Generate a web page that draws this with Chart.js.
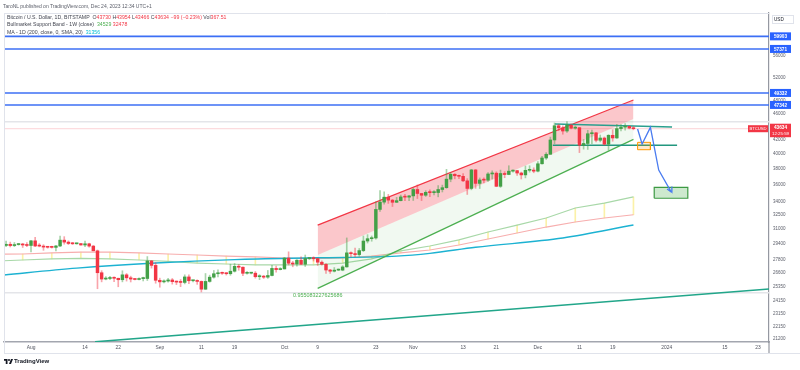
<!DOCTYPE html>
<html><head><meta charset="utf-8">
<script src="https://cdn.jsdelivr.net/npm/chart.js@4.4.0/dist/chart.umd.min.js"></script>
<style>
html,body{margin:0;padding:0;background:#fff;}
#wrap{position:relative;width:800px;height:370px;overflow:hidden;background:#fff;}
canvas{position:absolute;left:0;top:0;}
.t{position:absolute;font-family:'Liberation Sans',Arial,sans-serif;white-space:nowrap;}
.r{color:#f23645}.g{color:#4caf50}.c{color:#00bcd4}
</style></head>
<body><div id="wrap"><canvas id="c" width="800" height="370"></canvas>
<div class="t" style="left:3px;top:3px;font-size:5px;line-height:6px;color:#5d606b">TaroNL published on TradingView.com, Dec 24, 2023 12:34 UTC+1</div>
<div class="t" style="left:7px;top:13.5px;font-size:5.2px;line-height:7.5px;color:#434651">
<div>Bitcoin / U.S. Dollar, 1D, BITSTAMP&nbsp; O<span class="r">43730</span> H<span class="r">43954</span> L<span class="r">43466</span> C<span class="r">43634</span> <span class="r">−99 (−0.23%)</span> Vol<span class="r">367.51</span></div>
<div>Bullmarket Support Band - 1W (close)&nbsp; <span class="g">34529</span> <span class="r">32478</span></div>
<div>MA - 1D (200, close, 0, SMA, 20)&nbsp; <span class="c">31356</span></div>
</div>
<div class="t" style="left:4px;top:358px;font-size:6px;line-height:7px;color:#131722;font-weight:bold;display:flex;align-items:center;gap:1px">
<svg width="9" height="5" viewBox="0 0 36 20"><path d="M0 0h14v20H7V7H0z" fill="#131722"/><circle cx="20" cy="4" r="4" fill="#131722"/><path d="M28 0h8l-8 20h-8z" fill="#131722"/></svg><span>TradingView</span></div>
</div>
<script>
// ---------- DATA ----------
const dates = ['2023-07-26','2023-07-27','2023-07-28','2023-07-29','2023-07-30','2023-07-31',
'2023-08-01','2023-08-02','2023-08-03','2023-08-04','2023-08-05','2023-08-06','2023-08-07','2023-08-08','2023-08-09','2023-08-10','2023-08-11','2023-08-12','2023-08-13','2023-08-14','2023-08-15','2023-08-16','2023-08-17','2023-08-18','2023-08-19','2023-08-20','2023-08-21','2023-08-22','2023-08-23','2023-08-24','2023-08-25','2023-08-26','2023-08-27','2023-08-28','2023-08-29','2023-08-30','2023-08-31',
'2023-09-01','2023-09-02','2023-09-03','2023-09-04','2023-09-05','2023-09-06','2023-09-07','2023-09-08','2023-09-09','2023-09-10','2023-09-11','2023-09-12','2023-09-13','2023-09-14','2023-09-15','2023-09-16','2023-09-17','2023-09-18','2023-09-19','2023-09-20','2023-09-21','2023-09-22','2023-09-23','2023-09-24','2023-09-25','2023-09-26','2023-09-27','2023-09-28','2023-09-29','2023-09-30',
'2023-10-01','2023-10-02','2023-10-03','2023-10-04','2023-10-05','2023-10-06','2023-10-07','2023-10-08','2023-10-09','2023-10-10','2023-10-11','2023-10-12','2023-10-13','2023-10-14','2023-10-15','2023-10-16','2023-10-17','2023-10-18','2023-10-19','2023-10-20','2023-10-21','2023-10-22','2023-10-23','2023-10-24','2023-10-25','2023-10-26','2023-10-27','2023-10-28','2023-10-29','2023-10-30','2023-10-31',
'2023-11-01','2023-11-02','2023-11-03','2023-11-04','2023-11-05','2023-11-06','2023-11-07','2023-11-08','2023-11-09','2023-11-10','2023-11-11','2023-11-12','2023-11-13','2023-11-14','2023-11-15','2023-11-16','2023-11-17','2023-11-18','2023-11-19','2023-11-20','2023-11-21','2023-11-22','2023-11-23','2023-11-24','2023-11-25','2023-11-26','2023-11-27','2023-11-28','2023-11-29','2023-11-30',
'2023-12-01','2023-12-02','2023-12-03','2023-12-04','2023-12-05','2023-12-06','2023-12-07','2023-12-08','2023-12-09','2023-12-10','2023-12-11','2023-12-12','2023-12-13','2023-12-14','2023-12-15','2023-12-16','2023-12-17','2023-12-18','2023-12-19','2023-12-20','2023-12-21','2023-12-22','2023-12-23','2023-12-24'];
const opens = [29230,29350,29220,29320,29350,29280,
29230,29700,29180,29170,29070,29050,29040,29180,29770,29570,29430,29400,29420,29280,29400,29170,28700,26620,26050,26100,26190,26120,25990,26430,26160,26050,26010,26090,26100,27720,27300,
25940,25800,25870,25970,25820,25780,25750,26240,25900,25900,25840,25160,25840,26220,26530,26600,26570,26530,26760,27210,27130,26570,26580,26580,26260,26300,26220,26370,27020,26910,
26970,27990,27500,27430,27790,27410,27950,27970,27940,27600,27400,26870,26760,26860,26860,27160,28500,28420,28330,28720,29680,29920,29990,33080,33920,34500,34150,33900,34090,34530,34500,
34650,35420,34940,34730,35080,35040,35050,35420,35640,36700,37320,37130,37060,36490,35550,37880,36170,36600,36570,37360,37460,35810,37420,37290,37720,37790,37480,37240,37830,37860,
37720,38690,39460,39970,41980,44080,43770,43290,44170,43720,43790,41240,41480,42890,43020,41940,42260,41380,42660,42270,43650,43870,43990,43730];
const highs = [29680,29570,29530,29410,29450,29520,
29740,30050,29420,29310,29110,29160,29240,30180,30130,29700,29540,29470,29450,29680,29460,29230,28780,26810,26270,26290,26250,26130,26800,26550,26310,26090,26170,26220,28140,27760,27560,
26130,25970,26120,26100,25880,26010,26430,26420,25930,25980,25880,26550,26400,26830,26880,26670,26620,27410,27480,27380,27160,26720,26640,26730,26440,26380,26830,27300,27230,27090,
28050,28600,27680,27840,28120,28290,28000,28120,27990,27730,27480,26940,27100,26970,27280,30000,28600,28960,28930,30200,30340,30200,33950,35280,35130,34830,34240,34470,34750,34850,34720,
35570,35980,34940,35280,35380,35280,35900,35960,37960,37520,37400,37230,37410,36760,37960,37940,36850,36860,37530,37760,37640,37860,37660,38430,37900,37830,37600,38400,38430,38160,
38980,39700,40200,42400,44500,44300,44060,44700,44370,44050,43800,42050,43400,43420,43090,42700,42420,42750,43480,44280,44240,44400,44030,43954];
const lows = [29100,29080,29120,29260,29030,29110,
28590,29120,29090,28750,28960,28970,28700,29120,29360,29320,29330,29360,29250,29100,29060,28700,25200,25800,25980,26000,25810,25370,25800,25870,25790,25980,25970,25880,25920,27050,25680,
25330,25710,25780,25600,25560,25380,25620,25650,25800,25580,24920,25130,25770,26130,26250,26470,26410,26390,26680,26850,26360,26480,26510,26130,26000,26100,26110,26340,26680,26880,
26960,27340,27170,27220,27370,27200,27850,27710,27290,27310,26560,26560,26690,26810,26800,27130,28100,28140,28170,28620,29480,29660,29880,32860,33690,33770,33410,33880,34050,34080,34080,
34110,34340,34100,34580,34560,34760,34540,35120,35560,36370,36740,36770,36370,34820,35380,35560,35540,36220,36420,36720,35760,35670,36880,37260,37590,37160,36720,36860,37590,37510,
37630,38650,39270,39970,41450,43350,42820,43080,43590,43560,40200,40680,40640,41450,41700,41700,41260,40530,41800,42210,43300,43400,43600,43466];
const closes = [29350,29220,29320,29350,29280,29230,
29700,29180,29170,29070,29050,29040,29180,29770,29570,29430,29400,29420,29280,29400,29170,28700,26620,26050,26100,26190,26120,25990,26430,26160,26050,26010,26090,26100,27720,27300,25940,
25800,25870,25970,25820,25780,25750,26240,25900,25900,25840,25160,25840,26220,26530,26600,26570,26530,26760,27210,27130,26570,26580,26580,26260,26300,26220,26370,27020,26910,26970,
27990,27500,27430,27790,27410,27950,27970,27940,27600,27400,26870,26760,26860,26860,27160,28500,28420,28330,28720,29680,29920,29990,33080,33920,34500,34150,33900,34090,34530,34500,34650,
35420,34940,34730,35080,35040,35050,35420,35640,36700,37320,37130,37060,36490,35550,37880,36170,36600,36570,37360,37460,35810,37420,37290,37720,37790,37480,37240,37830,37860,37720,
38690,39460,39970,41980,44080,43770,43290,44170,43720,43790,41240,41480,42890,43020,41940,42260,41380,42660,42270,43650,43870,43990,43730,43634];

const xTickDates = ['2023-08-01','2023-08-14','2023-08-22','2023-09-01','2023-09-11','2023-09-19','2023-10-01','2023-10-09','2023-10-23','2023-11-01','2023-11-13','2023-11-21','2023-12-01','2023-12-11','2023-12-19','2024-01-01','2024-01-15','2024-01-23'];
const xTickLabels = ['Aug','14','22','Sep','11','19','Oct','9','23','Nov','13','21','Dec','11','19','2024','15','23'];
const yTickValues = [56000,52000,48000,46000,44000,42000,40000,38000,36000,34000,32500,31000,29400,27800,26600,25350,24150,23150,22150,21200];
const viewDates = ['2023-07-25 12','2024-01-25 15'];
const viewPrices = [20990, 64900];

const maDates = ['2023-07-25','2023-08-12','2023-08-31','2023-09-19','2023-10-09','2023-10-28','2023-11-05','2023-11-16','2023-12-07','2023-12-24'];
const maValues = [26400,27050,27530,27850,28020,28180,28450,29050,29990,31356];

const bandDates = ['2023-07-23','2023-07-30','2023-08-06','2023-08-13','2023-08-20','2023-08-27','2023-09-03','2023-09-10','2023-09-17','2023-09-24','2023-10-01','2023-10-08','2023-10-15','2023-10-22','2023-10-29','2023-11-05','2023-11-12','2023-11-19','2023-11-26','2023-12-03','2023-12-10','2023-12-17','2023-12-24'];
const bandGreen = [27700,27810,27910,27970,27910,27810,27670,27520,27430,27340,27340,27340,27520,27910,28700,29180,29790,30610,31350,32120,33240,33810,34529];
const bandRed = [28360,28390,28490,28580,28580,28490,28390,28290,28190,28100,28000,27950,28000,28190,28490,28780,29280,29890,30510,31140,31680,32120,32478];

const regDates = ['2023-10-09','2023-12-24'];
const regUpper = [31350,48150];
const regBase = [28290,45110];
const regLower = [25230,42070];
const pearsonR = '0.955083227625686';

const levelValues = [59903,57371,49332,47342];
const grayLevels = [44690,24850];
const lastPrice = 43634;
const lastTime = '12:25:59';

const trendDates = ['2023-08-16 10','2024-01-25 15'];
const trendValues = [21005,25170];
const topSegDates = ['2023-12-05 02','2024-01-02 07'];
const topSegValues = [44340,43890];
const midSegDates = ['2023-12-04 14','2024-01-03 12'];
const midSegValues = [41220,41220];
const pathDates = ['2023-12-25 00','2023-12-26 02','2023-12-28 02','2023-12-30 02','2024-01-02 01','2024-01-01 02','2024-01-02 01','2024-01-02 06'];
const pathValues = [43590,41400,43840,37870,35150,35480,35150,35790];
const orangeBoxDates = ['2023-12-25 00','2023-12-28 02'];
const orangeBoxValues = [40600,41640];
const greenBoxDates = ['2023-12-29 00','2024-01-06 02'];
const greenBoxValues = [34370,35690];

// ---------- HELPERS ----------
const EPOCH = Date.UTC(2023,7,1);
function dayOf(s){
  const [dp, hp] = s.split(' ');
  const [y,m,d] = dp.split('-').map(Number);
  return (Date.UTC(y,m-1,d,hp?Number(hp):0) - EPOCH)/86400000;
}
const xMin = dayOf(viewDates[0]), xMax = dayOf(viewDates[1]);
const pts = (ds, vs) => ds.map((s,i)=>({x:dayOf(s), y:vs[i]}));
const hline = v => [{x:xMin,y:v},{x:xMax,y:v}];
const box = (ds, vs) => { const a=dayOf(ds[0]), b=dayOf(ds[1]); return [{x:a,y:vs[0]},{x:a,y:vs[1]},{x:b,y:vs[1]},{x:b,y:vs[0]},{x:a,y:vs[0]}]; };
const tickDays = xTickDates.map(dayOf);
const UP='#43a047', DN='#f23645';
const isUp = i => closes[i] >= opens[i];

const L = (data, color, width, extra) => Object.assign({type:'line', data, borderColor:color, borderWidth:width, pointRadius:0, fill:false, tension:0}, extra||{});

const datasets = [
  /*0*/ L(pts(regDates, regUpper), '#f23645', 1.2, {order:12}),
  /*1*/ L(pts(regDates, regBase), 'rgba(0,0,0,0)', 0, {order:13, fill:{target:0}, backgroundColor:'rgba(242,54,69,0.28)'}),
  /*2*/ L(pts(regDates, regLower), '#4caf50', 1.2, {order:13, fill:{target:1}, backgroundColor:'rgba(76,175,80,0.08)'}),
  /*3*/ L(pts(trendDates, trendValues), '#22a68a', 1.5, {order:14}),
  /*4*/ L(pts(maDates, maValues), '#1cb2d2', 1.4, {order:15, cubicInterpolationMode:'monotone'}),
  /*5*/ L(pts(bandDates, bandGreen), '#a8d8a8', 1.2, {order:16}),
  /*6*/ L(pts(bandDates, bandRed), '#f7aeae', 1.2, {order:16}),
  /*7*/ {type:'bar', data: bandDates.map((s,i)=>({x:dayOf(s), y:[bandGreen[i], bandRed[i]]})), backgroundColor:'#fbf1a8', barThickness:1, maxBarThickness:1, grouped:false, order:17},
  /*8*/ L(hline(lastPrice), 'rgba(242,54,69,0.22)', 1, {order:20}),
  /*9*/ L(hline(grayLevels[0]), '#e4e5e9', 1.6, {order:20}),
  /*10*/ L(hline(grayLevels[1]), '#e4e5e9', 1.4, {order:20}),
  ...levelValues.map(v => L(hline(v), '#3c6ff5', 1.6, {order:10})),
  L(pts(topSegDates, topSegValues), '#2a9f8e', 1.4, {order:8}),
  L(pts(midSegDates, midSegValues), '#23977f', 1.4, {order:8}),
  {type:'bar', data: dates.map((s,i)=>({x:dayOf(s), y:[lows[i], highs[i]]})), backgroundColor: c => isUp(c.dataIndex)?'rgba(67,160,71,0.45)':'rgba(242,54,69,0.45)', barThickness:1, maxBarThickness:1, grouped:false, order:6},
  {type:'bar', data: dates.map((s,i)=>({x:dayOf(s), y:[opens[i], closes[i]]})), backgroundColor: c => isUp(c.dataIndex)?UP:DN, barThickness:2.8, maxBarThickness:2.8, minBarLength:1, grouped:false, order:5},
  L(box(orangeBoxDates, orangeBoxValues), '#ff9800', 1, {order:4, fill:'shape', backgroundColor:'rgba(255,152,0,0.2)'}),
  L(box(greenBoxDates, greenBoxValues), '#3d9a43', 1.2, {order:4, fill:'shape', backgroundColor:'rgba(76,175,80,0.28)'}),
  L(pts(pathDates, pathValues), '#4a7cf0', 1.3, {order:3}),
];

const FONT = "'Liberation Sans', Arial, sans-serif";
const overlay = {
  id:'overlay',
  afterDatasetsDraw(chart){
    const {ctx, scales:{x,y}} = chart;
    ctx.save();
    ctx.fillStyle='#4caf50'; ctx.font='5.4px '+FONT; ctx.textAlign='center'; ctx.textBaseline='middle';
    ctx.fillText(pearsonR, x.getPixelForValue(dayOf(regDates[0])), y.getPixelForValue(regLower[0])+7);
    ctx.restore();
  },
  afterDraw(chart){
    const {ctx, chartArea:a, scales:{x,y}} = chart;
    const W = chart.width;
    ctx.save();
    ctx.strokeStyle='#e0e3eb'; ctx.lineWidth=1;
    ctx.beginPath();
    ctx.moveTo(a.left, a.top+0.5); ctx.lineTo(a.right, a.top+0.5);
    ctx.moveTo(a.left+0.5, a.top); ctx.lineTo(a.left+0.5, a.bottom+11);
    ctx.moveTo(a.left, a.bottom+11.5); ctx.lineTo(W, a.bottom+11.5);
    ctx.stroke();
    ctx.strokeStyle='#9598a1'; ctx.lineWidth=1.2;
    ctx.beginPath(); ctx.moveTo(a.right, a.bottom); ctx.lineTo(a.right, a.bottom+11); ctx.stroke();
    // USD box
    ctx.fillStyle='#fff'; ctx.strokeStyle='#e0e3eb'; ctx.lineWidth=1;
    ctx.fillRect(a.right+3, a.top+2, 21, 8); ctx.strokeRect(a.right+3.5, a.top+2.5, 21, 8);
    ctx.fillStyle='#131722'; ctx.font='4.6px '+FONT; ctx.textAlign='left'; ctx.textBaseline='middle';
    ctx.fillText('USD', a.right+5, a.top+6.5);
    // level tags
    ctx.textAlign='center';
    levelValues.forEach(v => {
      const py = y.getPixelForValue(v);
      ctx.fillStyle='#2962ff'; ctx.fillRect(a.right+1, py-4, 21, 8);
      ctx.fillStyle='#fff'; ctx.font='bold 4.7px '+FONT; ctx.fillText(String(v), a.right+11.5, py+0.3);
    });
    // price tag
    const pp = y.getPixelForValue(lastPrice);
    ctx.fillStyle='#f23645'; ctx.fillRect(a.right+1, pp-5, 21, 13.5);
    ctx.fillStyle='#fff'; ctx.font='bold 4.7px '+FONT; ctx.fillText(String(lastPrice), a.right+11.5, pp-0.8);
    ctx.font='4.4px '+FONT; ctx.fillText(lastTime, a.right+11.5, pp+5);
    ctx.fillStyle='#f23645'; ctx.fillRect(a.right-21, pp-3.5, 20, 7);
    ctx.fillStyle='#fff'; ctx.font='4.2px '+FONT; ctx.fillText('BTCUSD', a.right-11, pp+0.2);
    ctx.restore();
  }
};

new Chart(document.getElementById('c'), {
  type:'line',
  data:{datasets},
  options:{
    responsive:false, animation:false, events:[],
    devicePixelRatio:1,
    layout:{padding:{top:13, left:4, right:0, bottom:17}},
    plugins:{legend:{display:false}, tooltip:{enabled:false}, title:{display:false}},
    scales:{
      x:{type:'linear', position:'bottom', min:xMin, max:xMax, offset:false,
         grid:{display:false, drawTicks:false},
         border:{display:true, color:'#a3a6af', width:1.5},
         afterBuildTicks: ax => { ax.ticks = tickDays.map(v=>({value:v})); },
         afterFit: ax => { ax.height = 11; },
         ticks:{autoSkip:false, maxRotation:0, padding:3, color:'#50535e', font:{size:4.9, family:FONT},
                callback: v => { const i = tickDays.indexOf(v); return i>=0 ? xTickLabels[i] : ''; }}},
      y:{type:'logarithmic', position:'right', min:viewPrices[0], max:viewPrices[1],
         grid:{display:false, drawTicks:false},
         border:{display:true, color:'#9598a1', width:1.2},
         afterBuildTicks: ax => { ax.ticks = yTickValues.map(v=>({value:v})); },
         afterFit: ax => { ax.width = 31; },
         ticks:{autoSkip:false, padding:4, color:'#5d606b', font:{size:4.5, family:FONT},
                callback: v => String(v)}}
    }
  },
  plugins:[overlay]
});
</script>
</body></html>
